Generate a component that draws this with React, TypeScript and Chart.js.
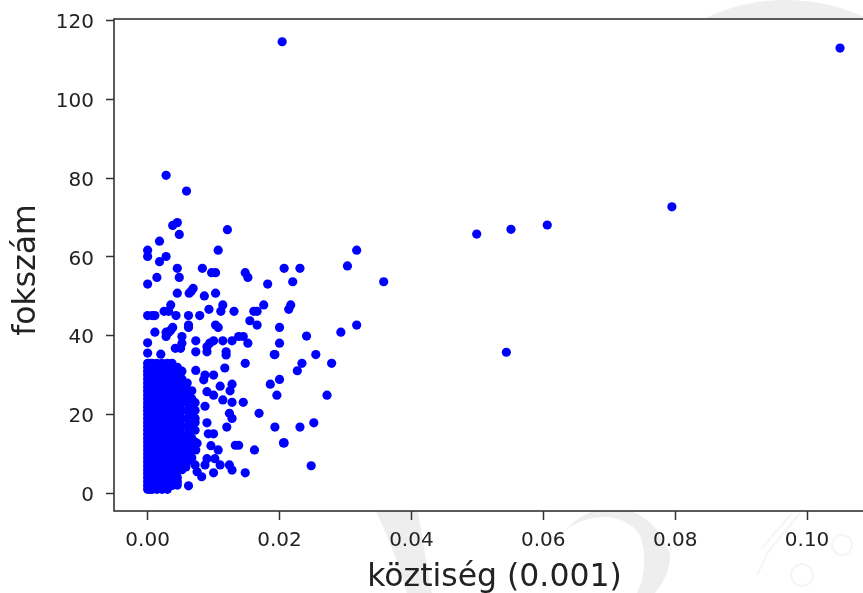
import React, { useEffect, useRef } from "react";
import { Chart, registerables } from "chart.js";

Chart.register(...registerables);

const xAxisTicks = [0, 0.02, 0.04, 0.06, 0.08, 0.1];
const yAxisTicks = [0, 20, 40, 60, 80, 100, 120];
const xAxisTitle = "köztiség (0.001)";
const yAxisTitle = "fokszám ";

const farX = [0.0204, 0.105, 0.0795, 0.0606, 0.0551, 0.0499, 0.0544, 0.0358, 0.0317, 0.0303, 0.0317, 0.0293, 0.0279, 0.0272, 0.0255, 0.0252, 0.0248, 0.0241, 0.0234, 0.0231, 0.0231, 0.0227, 0.022, 0.0217, 0.0214, 0.0207, 0.0207, 0.0206, 0.02, 0.02, 0.02, 0.0196, 0.0193, 0.0193, 0.0186];
const farY = [114.6, 113, 72.7, 68.1, 67, 65.8, 35.8, 53.7, 61.7, 57.7, 42.7, 40.9, 33, 24.9, 35.2, 17.9, 7, 39.9, 33, 57.1, 16.8, 31.1, 53.7, 47.8, 46.7, 57.1, 12.8, 12.8, 42.1, 38.1, 28.9, 24.9, 35.2, 16.8, 27.7];

const upperX = [0.0028, 0.0059, 0.0038, 0.0045, 0.0048, 0.0121, 0.0018, 0, 0, 0.0028, 0.0018, 0.0107, 0.0045, 0.0083, 0.0097, 0.0103, 0.0148, 0.0152, 0.0014, 0.0048, 0, 0.0182, 0.0045, 0.0063, 0.0069, 0.0066, 0.0086, 0.0103, 0.0035, 0.0114, 0.0176, 0, 0.0007, 0.0011, 0.0025, 0.0032, 0.0043, 0.0062, 0.0079, 0.0093, 0.0111, 0.0131, 0.0161, 0.0166, 0.0155, 0.0166, 0.0103, 0.0107, 0.0062, 0.0062, 0.0038, 0.0035, 0.0028, 0.0032, 0.0028, 0.0011, 0.0052, 0, 0.0073, 0.0052, 0.0042, 0.005, 0.01, 0.0114, 0.0128, 0.0138, 0.0145, 0.0152, 0.0094, 0.009];
const upperY = [80.7, 76.7, 68, 68.7, 65.7, 66.9, 64, 61.7, 60.1, 60.1, 58.8, 61.7, 57.1, 57.1, 56, 56, 56, 54.8, 54.8, 54.8, 53.1, 53.1, 50.8, 50.8, 52, 51.3, 50.1, 50.8, 47.8, 47.8, 47.8, 45.1, 45.1, 45.1, 46.2, 46.2, 45.1, 45.1, 45.1, 46.7, 46.2, 46.2, 46.2, 46.2, 43.8, 42.7, 42.7, 42.1, 42.7, 42.1, 42.1, 41.4, 40.9, 40.9, 39.8, 40.9, 39.8, 38.2, 38.7, 38.1, 36.8, 36.8, 38.7, 38.7, 38.7, 39.8, 39.8, 38.1, 38.1, 37.2];

const lowerX = [0, 0.002, 0.0073, 0.009, 0.0119, 0.0119, 0.0192, 0.0148, 0.0117, 0.0073, 0.0087, 0.01, 0.0085, 0.0128, 0.011, 0.0125, 0.0114, 0.0128, 0.0145, 0.01, 0.009, 0.0087, 0.0169, 0.0124, 0.0128, 0.009, 0.012, 0.01, 0.0092, 0.0133, 0.0138, 0.0162, 0.0096, 0.0107, 0.0075, 0.0073, 0.009, 0.0102, 0.011, 0.0124, 0.0128, 0.0148, 0.01, 0.0087, 0.0072, 0.0058, 0.0082, 0.0075, 0.0062, 0.0045, 0.0042];
const lowerY = [35.6, 35.3, 35.9, 35.9, 35.9, 35.1, 35.2, 33, 31.8, 31.2, 30, 30, 28.8, 27.7, 27.2, 26, 23.7, 23.1, 23.1, 24.9, 25.8, 22.1, 20.3, 20.3, 19, 17.9, 16.8, 15.1, 15.1, 12.2, 12.2, 11, 12.1, 11, 12.7, 11, 8.8, 8.8, 7.2, 7.2, 5.9, 5.2, 5.2, 7.2, 7.2, 6.7, 4.2, 5.5, 1.9, 2.1, 4.2];

const denseX = [0, 0.0004, 0.0007, 0.0014, 0.0022, 0.003, 0.0037, 0.0045, 0.0052, 0.006, 0.0067, 0.0072];
const dense0 = [1, 2, 3, 4, 5, 6, 7, 8, 9, 10, 11, 12, 13, 14, 15, 16, 17, 18, 19, 20, 21, 22, 23, 24, 25, 26, 27, 28, 29, 30, 31, 32, 33];
const dense00 = [1, 2, 3, 4, 6, 8, 10, 12, 14, 16, 18, 20, 22, 24, 26, 28, 30, 32, 33];
const dense1 = [1, 3, 5, 7, 9, 11, 13, 15, 17, 19, 21, 23, 25, 27, 29, 31, 33];
const dense2 = [1, 2, 4, 6, 8, 10, 12, 14, 16, 18, 20, 22, 24, 26, 28, 30, 32, 33];
const dense3 = [1, 3, 5, 7, 9, 11, 13, 15, 17, 19, 21, 23, 25, 27, 29, 31, 33];
const dense4 = [1, 2, 4, 6, 8, 10, 12, 14, 16, 18, 20, 22, 24, 26, 28, 30, 32, 33];
const dense5 = [2, 3, 5, 7, 9, 11, 13, 15, 17, 19, 21, 23, 25, 27, 29, 31, 33];
const dense6 = [3, 4, 6, 8, 10, 12, 14, 16, 18, 20, 22, 24, 26, 28, 30, 32];
const dense7 = [6, 7, 9, 11, 13, 15, 17, 19, 21, 23, 25, 27, 29, 31];
const dense8 = [8, 10, 12, 14, 15, 17, 19, 21, 23, 24, 26, 28];
const dense9 = [9, 11, 13, 14, 16, 18, 20, 22, 24, 26];
const dense10 = [13, 16, 18, 19, 21, 23];
const denseColumns = [dense0, dense00, dense1, dense2, dense3, dense4, dense5, dense6, dense7, dense8, dense9, dense10];

const toPoints = (xs: number[], ys: number[]) => xs.map((x, i) => ({ x, y: ys[i] }));

const points = [
  ...toPoints(farX, farY),
  ...toPoints(upperX, upperY),
  ...toPoints(lowerX, lowerY),
  ...denseColumns.flatMap((col, i) => col.map((y) => ({ x: denseX[i], y }))),
];

const framePlugin = {
  id: "frame",
  beforeDraw(chart: any) {
    const { ctx, chartArea: a } = chart;
    ctx.save();
    ctx.fillStyle = "#eeeeee";
    ctx.beginPath();
    ctx.arc(786, 188, 188, 0, Math.PI * 2);
    ctx.fill();
    ctx.beginPath();
    ctx.moveTo(373, 505);
    ctx.lineTo(417, 505);
    ctx.quadraticCurveTo(424, 550, 432, 593);
    ctx.lineTo(407, 593);
    ctx.quadraticCurveTo(395, 550, 373, 505);
    ctx.fill();
    ctx.beginPath();
    ctx.moveTo(566, 530);
    ctx.bezierCurveTo(590, 500, 650, 495, 670, 555);
    ctx.quadraticCurveTo(670, 575, 655, 593);
    ctx.lineTo(637, 593);
    ctx.quadraticCurveTo(650, 565, 640, 535);
    ctx.bezierCurveTo(625, 512, 590, 512, 566, 530);
    ctx.fill();
    ctx.strokeStyle = "#f5f5f5";
    ctx.lineWidth = 2;
    ctx.beginPath();
    ctx.moveTo(800, 513);
    ctx.lineTo(768, 552);
    ctx.lineTo(757, 575);
    ctx.moveTo(792, 513);
    ctx.lineTo(762, 548);
    ctx.moveTo(852, 545);
    ctx.arc(842, 545, 10, 0, Math.PI * 2);
    ctx.moveTo(813, 575);
    ctx.arc(802, 575, 11, 0, Math.PI * 2);
    ctx.stroke();
    ctx.fillStyle = "#ffffff";
    ctx.fillRect(a.left, a.top, a.right - a.left, a.bottom - a.top);
    ctx.restore();
  },
  afterDraw(chart: any) {
    const { ctx, chartArea: a } = chart;
    ctx.save();
    ctx.strokeStyle = "#333333";
    ctx.lineWidth = 1.6;
    ctx.strokeRect(a.left, a.top, a.right - a.left, a.bottom - a.top);
    ctx.restore();
  },
};

const tickFont = { family: "'DejaVu Sans'", size: 20 };
const titleFont = { family: "'DejaVu Sans'", size: 31.5, lineHeight: 1 };

export default function App() {
  const ref = useRef<HTMLCanvasElement>(null);
  useEffect(() => {
    const chart = new Chart(ref.current!, {
      type: "scatter",
      data: {
        datasets: [
          {
            data: points,
            backgroundColor: "#0000ff",
            borderWidth: 0,
            pointRadius: 4.6,
          },
        ],
      },
      plugins: [framePlugin],
      options: {
        animation: false,
        responsive: false,
        layout: { padding: { top: 19, right: 5, left: 0, bottom: 0 } },
        plugins: { legend: { display: false }, tooltip: { enabled: false } },
        scales: {
          x: {
            type: "linear",
            min: -0.0051,
            max: 0.1103,
            afterBuildTicks: (s: any) => {
              s.ticks = xAxisTicks.map((value) => ({ value }));
            },
            afterFit: (s: any) => {
              s.height = 82;
            },
            grid: { drawOnChartArea: false, tickLength: 9, tickWidth: 1.5, tickColor: "#333333" },
            border: { display: false },
            ticks: {
              maxRotation: 0,
              autoSkip: false,
              font: tickFont,
              color: "#222222",
              padding: 9,
              callback: (v: any) => Number(v).toFixed(2),
            },
            title: { display: true, text: xAxisTitle, font: titleFont, color: "#222222", padding: { top: 0, bottom: -1 } },
          },
          y: {
            type: "linear",
            min: -4.49,
            max: 120.38,
            afterBuildTicks: (s: any) => {
              s.ticks = yAxisTicks.map((value) => ({ value }));
            },
            afterFit: (s: any) => {
              s.width = 114;
              s.paddingTop = 0;
              s.paddingBottom = 0;
            },
            grid: { drawOnChartArea: false, tickLength: 8, tickWidth: 1.5, tickColor: "#333333" },
            border: { display: false },
            ticks: { autoSkip: false, font: tickFont, color: "#222222", padding: 12, labelOffset: 2.5 },
            title: { display: true, text: yAxisTitle, font: titleFont, color: "#222222", padding: { top: 11, bottom: 0 } },
          },
        },
      },
    } as any);
    return () => chart.destroy();
  }, []);
  return (
    <div style={{ position: "fixed", left: 0, top: 0, width: 863, height: 593, overflow: "hidden", background: "#fff" }}>
      <canvas ref={ref} width={880} height={593} style={{ display: "block", filter: "blur(0.6px)" }} />
    </div>
  );
}
